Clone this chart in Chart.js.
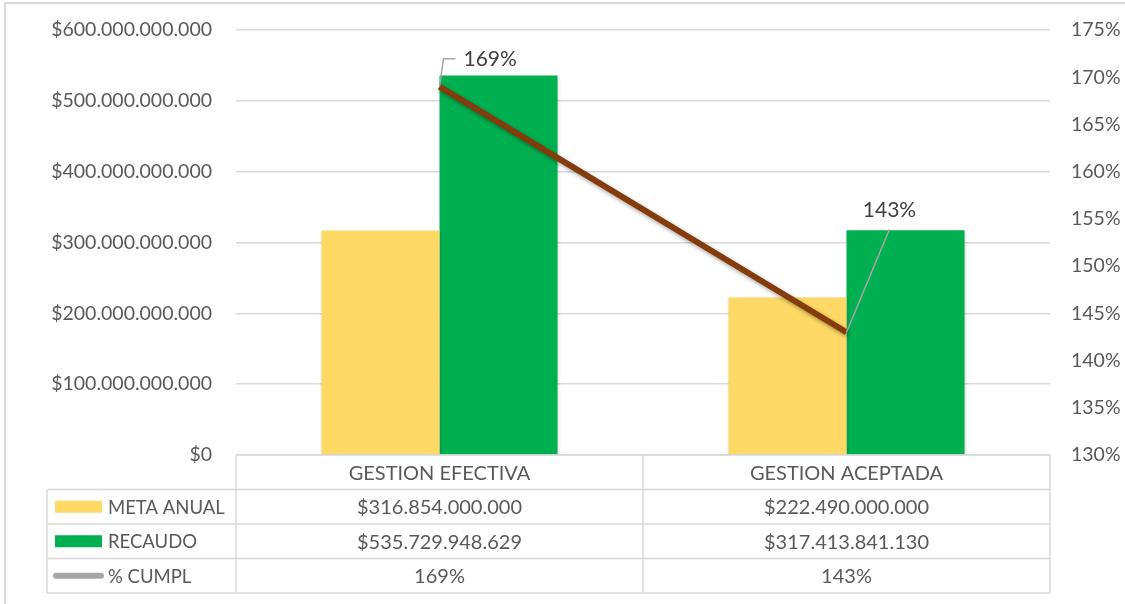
<!DOCTYPE html>
<html>
<head>
<meta charset="utf-8">
<script src="https://cdn.jsdelivr.net/npm/chart.js@4/dist/chart.umd.min.js"></script>
<style>
  body { margin: 0; background: #fff; }
  #caja { width: 1125px; height: 604px; position: relative; }
</style>
</head>
<body>
<div id="caja"><canvas id="grafico"></canvas></div>
<script>
// datos
var categorias = ['GESTION EFECTIVA', 'GESTION ACEPTADA'];
var metaAnual = [316854000000, 222490000000];
var recaudo = [535729948629, 317413841130];
var cumplimiento = [169, 143];
var series = ['META ANUAL', 'RECAUDO', '% CUMPL'];

var FUENTE = 'Lato, "Liberation Sans", sans-serif';
var GRIS_TEXTO = '#595959';
var GRIS_LINEA = '#d9d9d9';

function pesos(v) {
    return '$' + String(Math.round(v)).replace(/\B(?=(\d{3})+(?!\d))/g, '.');
}

// sombra para barras y linea
var sombra = {
    id: 'sombra',
    beforeDatasetDraw: function (chart, args) {
        var ctx = chart.ctx;
        ctx.save();
        if (args.meta.type === 'line') {
            ctx.shadowColor = 'rgba(0,0,0,0.35)';
            ctx.shadowBlur = 4;
            ctx.shadowOffsetX = 1;
            ctx.shadowOffsetY = 2;
        } else {
            ctx.shadowColor = 'rgba(0,0,0,0.18)';
            ctx.shadowBlur = 3;
            ctx.shadowOffsetX = 1;
            ctx.shadowOffsetY = 1;
        }
    },
    afterDatasetDraw: function (chart) {
        chart.ctx.restore();
    }
};

// etiquetas del % con linea guia
var etiquetas = {
    id: 'etiquetas',
    afterDatasetsDraw: function (chart) {
        var ctx = chart.ctx;
        var meta = chart.getDatasetMeta(2);
        var p0 = meta.data[0], p1 = meta.data[1];
        ctx.save();
        ctx.strokeStyle = '#a6a6a6';
        ctx.lineWidth = 1.5;
        ctx.beginPath();
        ctx.moveTo(p0.x, p0.y);
        ctx.lineTo(p0.x + 4, p0.y - 28);
        ctx.lineTo(p0.x + 16, p0.y - 28);
        ctx.moveTo(p1.x, p1.y);
        ctx.lineTo(p1.x + 43, p1.y - 103);
        ctx.stroke();
        ctx.fillStyle = '#404040';
        ctx.font = '21px ' + FUENTE;
        ctx.textBaseline = 'middle';
        ctx.textAlign = 'left';
        ctx.fillText(cumplimiento[0] + '%', p0.x + 24, p0.y - 27);
        ctx.textAlign = 'center';
        ctx.fillText(cumplimiento[1] + '%', p1.x + 43, p1.y - 122);
        ctx.restore();
    }
};

// tabla de datos debajo del grafico
var tabla = {
    id: 'tabla',
    afterDraw: function (chart) {
        var ctx = chart.ctx;
        var area = chart.chartArea;
        var x = chart.scales.x;
        var izq = 47, top = area.bottom, fila = 34.5;
        var mitad = (area.left + area.right) / 2;
        var cols = [area.left, mitad, area.right];
        ctx.save();
        // marco exterior
        ctx.strokeStyle = GRIS_LINEA;
        ctx.lineWidth = 2;
        ctx.beginPath();
        ctx.moveTo(5, 604);
        ctx.lineTo(5, 3);
        ctx.lineTo(1125, 3);
        ctx.stroke();

        ctx.lineWidth = 1.5;
        ctx.beginPath();
        // encabezado
        ctx.moveTo(area.left, top);
        ctx.lineTo(area.right, top);
        for (var r = 1; r <= 4; r++) {
            ctx.moveTo(izq, top + r * fila);
            ctx.lineTo(area.right, top + r * fila);
        }
        cols.forEach(function (c) {
            ctx.moveTo(c, top);
            ctx.lineTo(c, top + 4 * fila);
        });
        ctx.moveTo(izq, top + fila);
        ctx.lineTo(izq, top + 4 * fila);
        ctx.stroke();

        ctx.fillStyle = GRIS_TEXTO;
        ctx.font = '20px ' + FUENTE;
        ctx.textAlign = 'center';
        ctx.textBaseline = 'middle';
        var valores = [
            metaAnual.map(pesos),
            recaudo.map(pesos),
            cumplimiento.map(function (v) { return v + '%'; })
        ];
        categorias.forEach(function (c, i) {
            var cx = x.getPixelForValue(i);
            ctx.fillText(c, cx, top + fila / 2 + 1);
            for (var r = 0; r < 3; r++) {
                ctx.fillText(valores[r][i], cx, top + (r + 1.5) * fila + 1);
            }
        });

        // leyenda en la tabla
        ctx.textAlign = 'left';
        ctx.font = '18.5px ' + FUENTE;
        var colores = ['#ffd966', '#00b050'];
        for (var s = 0; s < 3; s++) {
            var cy = top + (s + 1.5) * fila;
            if (s < 2) {
                ctx.fillStyle = colores[s];
                ctx.fillRect(55, cy - 6, 47, 12);
            } else {
                ctx.strokeStyle = '#a6a6a6';
                ctx.lineWidth = 6;
                ctx.lineCap = 'round';
                ctx.beginPath();
                ctx.moveTo(56, cy);
                ctx.lineTo(101, cy);
                ctx.stroke();
            }
            ctx.fillStyle = GRIS_TEXTO;
            ctx.fillText(series[s], 108, cy + 1);
        }
        ctx.restore();
    }
};

function sinRelleno(s, ancho) {
    s.width = ancho;
    s.paddingTop = 0;
    s.paddingBottom = 0;
}

new Chart(document.getElementById('grafico').getContext('2d'), {
    type: 'bar',
    data: {
        labels: categorias,
        datasets: [{
            label: series[0],
            data: metaAnual,
            backgroundColor: '#ffd966',
            yAxisID: 'y',
            order: 2
        }, {
            label: series[1],
            data: recaudo,
            backgroundColor: '#00b050',
            yAxisID: 'y',
            order: 2
        }, {
            type: 'line',
            label: series[2],
            data: cumplimiento,
            borderColor: '#843c0c',
            borderWidth: 6,
            pointRadius: 0,
            yAxisID: 'y1',
            order: 1
        }]
    },
    options: {
        responsive: true,
        maintainAspectRatio: false,
        animation: false,
        layout: { padding: { left: 0, right: 0, top: 30, bottom: 149 } },
        datasets: {
            bar: { categoryPercentage: 0.58, barPercentage: 1 }
        },
        plugins: {
            legend: { display: false },
            tooltip: { enabled: false }
        },
        scales: {
            x: { display: false },
            y: {
                position: 'left',
                min: 0,
                max: 600000000000,
                afterFit: function (s) { sinRelleno(s, 236); },
                grid: { color: GRIS_LINEA, lineWidth: 1.5, drawTicks: false },
                border: { display: false },
                ticks: {
                    stepSize: 100000000000,
                    padding: 24,
                    color: GRIS_TEXTO,
                    font: { family: FUENTE, size: 19.5 },
                    callback: function (v) { return pesos(v); }
                }
            },
            y1: {
                position: 'right',
                min: 130,
                max: 175,
                afterFit: function (s) { sinRelleno(s, 75); },
                grid: { display: false, drawTicks: false },
                border: { display: false },
                ticks: {
                    stepSize: 5,
                    padding: 21,
                    color: GRIS_TEXTO,
                    font: { family: FUENTE, size: 19.5 },
                    callback: function (v) { return v + '%'; }
                }
            }
        }
    },
    plugins: [sombra, etiquetas, tabla]
});
</script>
</body>
</html>
